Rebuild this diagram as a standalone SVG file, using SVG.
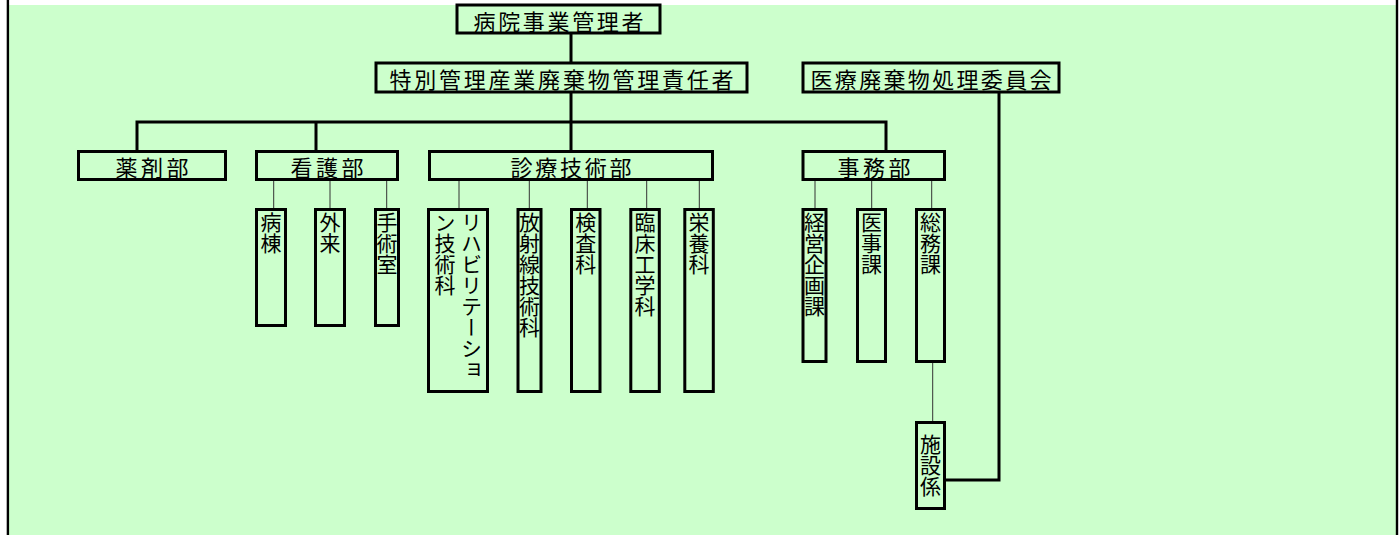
<svg xmlns="http://www.w3.org/2000/svg" width="1400" height="535" viewBox="0 0 1400 535">
<style>
.box{fill:#CCFFCC;stroke:#000;stroke-width:3}
.thick{fill:none;stroke:#000;stroke-width:3}
.thin{fill:none;stroke:#333;stroke-width:1}
text{font-family:"Noto Sans CJK JP","Noto Sans CJK SC",sans-serif;fill:#000}
.h{font-size:22px;text-anchor:middle;dominant-baseline:central}
.v{font-size:21px;writing-mode:vertical-rl}
</style>
<rect x="0" y="0" width="1400" height="535" fill="#ffffff"/>
<rect x="9" y="5" width="1387" height="530" fill="#CCFFCC"/>
<rect x="6.7" y="0" width="2.4" height="535" fill="#000"/>
<rect x="1395.8" y="0" width="2.4" height="535" fill="#000"/>
<g id="connectors">
<path class="thick" d="M571 33V62M571 93V150M137 150V122H886V150M316 122V150M999 93V480H946"/>
<path class="thin" d="M273.7 181V208M330 181V208M386.7 181V208M459 181V208M529.3 181V208M587.3 181V208M646.7 181V208M699.3 181V208M815 181V208M871.7 181V208M931.7 181V208M932.7 363V421"/>
</g>
<g id="n-top"><rect class="box" x="457" y="5" width="203" height="28"/><text class="h" x="558.5" y="19.5" textLength="170" lengthAdjust="spacing">病院事業管理者</text></g>
<g id="n-tokubetsu"><rect class="box" x="376" y="63" width="371" height="29"/><text class="h" x="561.5" y="78" textLength="344" lengthAdjust="spacing">特別管理産業廃棄物管理責任者</text></g>
<g id="n-iinkai"><rect class="box" x="803" y="63" width="256" height="29"/><text class="h" x="931" y="78" textLength="241" lengthAdjust="spacing">医療廃棄物処理委員会</text></g>
<g id="n-yakuzai"><rect class="box" x="78.5" y="151.5" width="147" height="28"/><text class="h" x="152" y="166" textLength="73" lengthAdjust="spacing">薬剤部</text></g>
<g id="n-kango"><rect class="box" x="256.5" y="151.5" width="141" height="28"/><text class="h" x="327" y="166" textLength="73" lengthAdjust="spacing">看護部</text></g>
<g id="n-shinryo"><rect class="box" x="429.5" y="151.5" width="283" height="28"/><text class="h" x="571" y="166" textLength="121" lengthAdjust="spacing">診療技術部</text></g>
<g id="n-jimu"><rect class="box" x="803" y="151.5" width="141.5" height="28"/><text class="h" x="874" y="166" textLength="73" lengthAdjust="spacing">事務部</text></g>
<g id="n-byoto"><rect class="box" x="256.5" y="209.5" width="29" height="116"/><text class="v" x="271" y="212">病棟</text></g>
<g id="n-gairai"><rect class="box" x="315.5" y="209.5" width="29" height="116"/><text class="v" x="330" y="212">外来</text></g>
<g id="n-shujutsu"><rect class="box" x="375.5" y="209.5" width="23" height="116"/><text class="v" x="387" y="212">手術室</text></g>
<g id="n-reha"><rect class="box" x="428.5" y="209.5" width="59" height="182"/><text class="v" x="471.5" y="212">リハビリテーショ</text><text class="v" x="445" y="212">ン技術科</text></g>
<g id="n-hoshasen"><rect class="box" x="518" y="209.5" width="23" height="182"/><text class="v" x="529.5" y="212">放射線技術科</text></g>
<g id="n-kensa"><rect class="box" x="571.5" y="209.5" width="28.5" height="182"/><text class="v" x="585.8" y="212">検査科</text></g>
<g id="n-rinsho"><rect class="box" x="630.8" y="209.5" width="28.5" height="182"/><text class="v" x="645" y="212">臨床工学科</text></g>
<g id="n-eiyo"><rect class="box" x="684.8" y="209.5" width="28.5" height="182"/><text class="v" x="699" y="212">栄養科</text></g>
<g id="n-keiei"><rect class="box" x="803" y="209.5" width="23" height="152"/><text class="v" x="814.5" y="212">経営企画課</text></g>
<g id="n-iji"><rect class="box" x="857.5" y="209.5" width="28" height="152"/><text class="v" x="871.5" y="212">医事課</text></g>
<g id="n-somu"><rect class="box" x="916.5" y="209.5" width="28" height="152"/><text class="v" x="930.5" y="212">総務課</text></g>
<g id="n-shisetsu"><rect class="box" x="916.5" y="422.5" width="28" height="86"/><text class="v" x="930.5" y="434">施設係</text></g>
</svg>
